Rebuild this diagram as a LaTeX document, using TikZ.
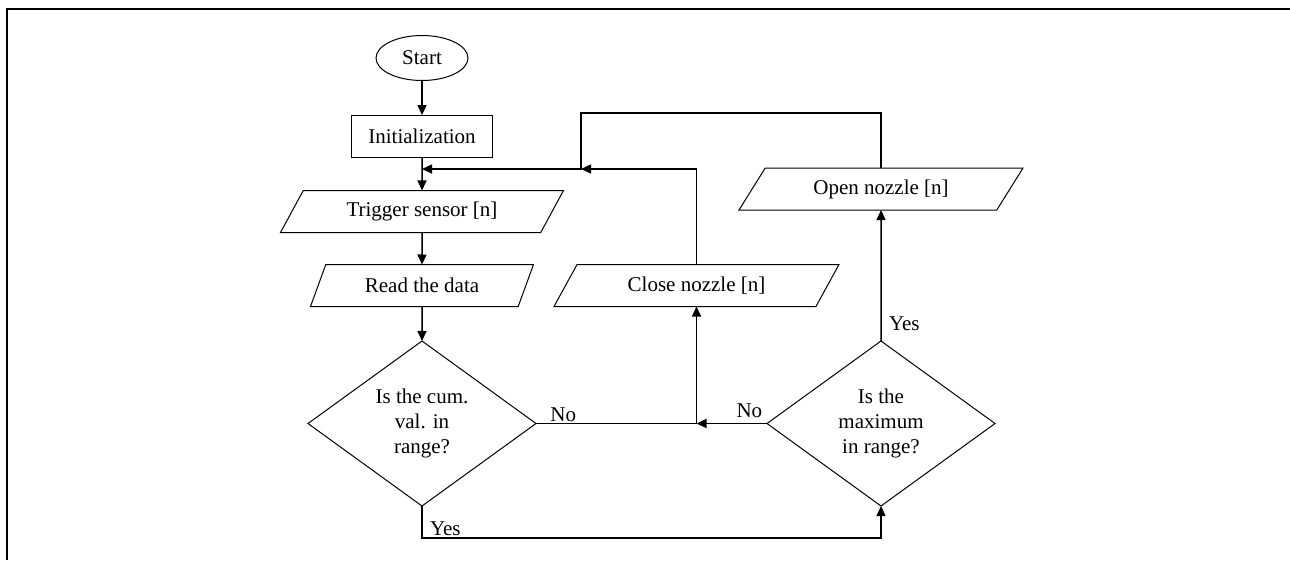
\documentclass[tikz,border=0pt]{standalone}
\usepackage{fontspec}
\setmainfont{Liberation Serif}
\usetikzlibrary{arrows.meta}
\usetikzlibrary{shapes.geometric}
\tikzset{
	every node/.style={align=center,outer sep=0pt,font=\fontsize{21}{25}\selectfont},
	every path/.style={line width=1pt},
	flow/.style={line width=1.5pt,-{Triangle[length=10pt,width=9pt]}},
	terminal/.style={draw,ellipse,minimum width=92pt,minimum height=45pt,inner sep=0pt},
	process/.style={draw,rectangle,minimum width=141pt,minimum height=42pt,inner sep=0pt},
	io/.style 2 args={draw,trapezium,trapezium left angle=#1,trapezium right angle=#2,trapezium stretches body,minimum height=42pt,inner sep=0pt},
	decision/.style={draw,diamond,minimum width=228pt,minimum height=165pt,inner sep=0pt},
	answer/.style={inner sep=2pt},
}

\begin{document}
\begin{tikzpicture}[x=1pt,y=-1pt]
	\useasboundingbox (0,0) rectangle (1290,560);
	
	%frame.....................
	\draw [line width=2.2pt] (7,560) to (7,9) to (1290,9);
	
	%main column.....................
	\node [terminal] (start) at (422,58) {Start};
	\node [process] (init) at (422,136) {Initialization};
	\node [io={40}{140},minimum width=283pt] (trigger) at (422,211.5) {Trigger sensor [n]};
	\node [io={44}{136},minimum width=223pt] (read) at (422,285.5) {Read the data};
	\node [decision] (cumval) at (422,423.5) {Is the cum.\\ val. in\\ range?};
	
	%right side.....................
	\node [io={37}{143},minimum width=285pt] (close) at (696.5,285.5) {Close nozzle [n]};
	\node [io={36}{144},minimum width=284pt] (open) at (881,189) {Open nozzle [n]};
	\node [decision] (maxval) at (881,423.5) {Is the\\ maximum\\ in range?};
	
	%helper points.....................
	\coordinate (looptop) at (581,113);
	\coordinate (loopin) at (581,169);
	\coordinate (yesrun) at (422,538);
	
	%straight flow.....................
	\draw [flow] (start) to (init);
	\draw [flow] (init) to (trigger);
	\draw [flow] (trigger) to (read);
	\draw [flow] (read) to (cumval);
	
	%decisions.....................
	\draw [flow] (cumval.east) -| node (nocum) [pos=0.085,above,answer] {No} (close.south);
	\draw [flow] (maxval.west) to node (nomax) [pos=0.25,above=4pt,answer] {No} (maxval.west -| close.south);
	\draw [flow] (cumval.south) to (yesrun) -| (maxval.south);
	\node (yescum) [anchor=south west,answer] at (428,538) {Yes};
	\draw [flow] (maxval.north) to node (yesmax) [pos=0.13,right=6pt,answer] {Yes} (open.south);
	
	%loop back.....................
	\draw [flow] (open.north) |- (looptop) to (loopin) to (loopin -| init.south);
	\draw [flow] (close.north) |- (loopin);
	
\end{tikzpicture}
\end{document}
